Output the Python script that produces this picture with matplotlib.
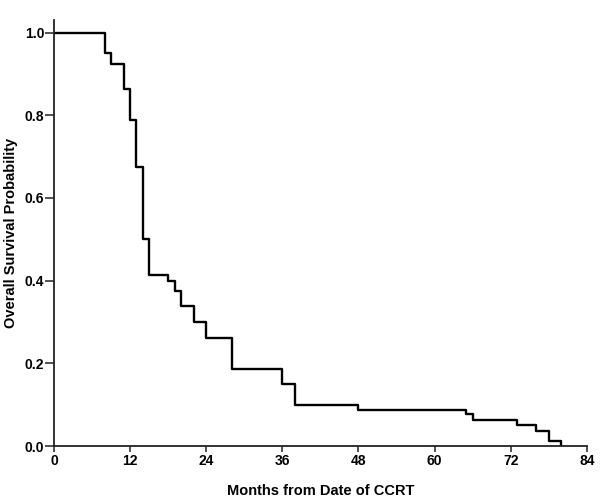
import matplotlib
matplotlib.use("Agg")
import matplotlib.pyplot as plt

# Kaplan-Meier steps (months, survival after the drop)
months = [0, 8, 9, 11, 12, 13, 14, 15, 18, 19, 20, 22, 24, 28, 36, 38, 48, 65, 66, 73, 76, 78, 80]
survival = [1.0, 0.950, 0.925, 0.8625, 0.7875, 0.675, 0.500, 0.4125, 0.400, 0.375, 0.3375,
            0.300, 0.2625, 0.1875, 0.150, 0.100, 0.0875, 0.078, 0.0625, 0.050, 0.0375, 0.0125, 0.0]

x_ticks = [0, 12, 24, 36, 48, 60, 72, 84]
y_ticks = [0.0, 0.2, 0.4, 0.6, 0.8, 1.0]

plt.rcParams['font.family'] = ['Liberation Sans', 'DejaVu Sans']
plt.rcParams['font.weight'] = 'bold'

fig = plt.figure(figsize=(6, 5.04), dpi=100)
ax = fig.add_axes([0.09, 0.115, 0.888, 0.845])

ax.step(months, survival, where='post', color='black', linewidth=1.7)

ax.set_xlim(0, 84)
ax.set_ylim(0, 1.03)
ax.set_xticks(x_ticks)
ax.set_yticks(y_ticks)
ax.set_yticklabels([f"{v:.1f}" for v in y_ticks])

for side in ['top', 'right']:
    ax.spines[side].set_visible(False)
for side in ['left', 'bottom']:
    ax.spines[side].set_linewidth(1.3)
    ax.spines[side].set_color('#222222')

ax.tick_params(direction='out', width=1.1, labelsize=10, color='#222222')
ax.tick_params(axis='x', length=4.5, pad=1.5)
ax.tick_params(axis='y', length=6.5, pad=0.5)

ax.set_xlabel('Months from Date of CCRT', fontsize=10.5, fontweight='bold', labelpad=11)
ax.set_ylabel('Overall Survival Probability', fontsize=10.5, fontweight='bold', labelpad=5)

fig.savefig('out.png', dpi=100)
